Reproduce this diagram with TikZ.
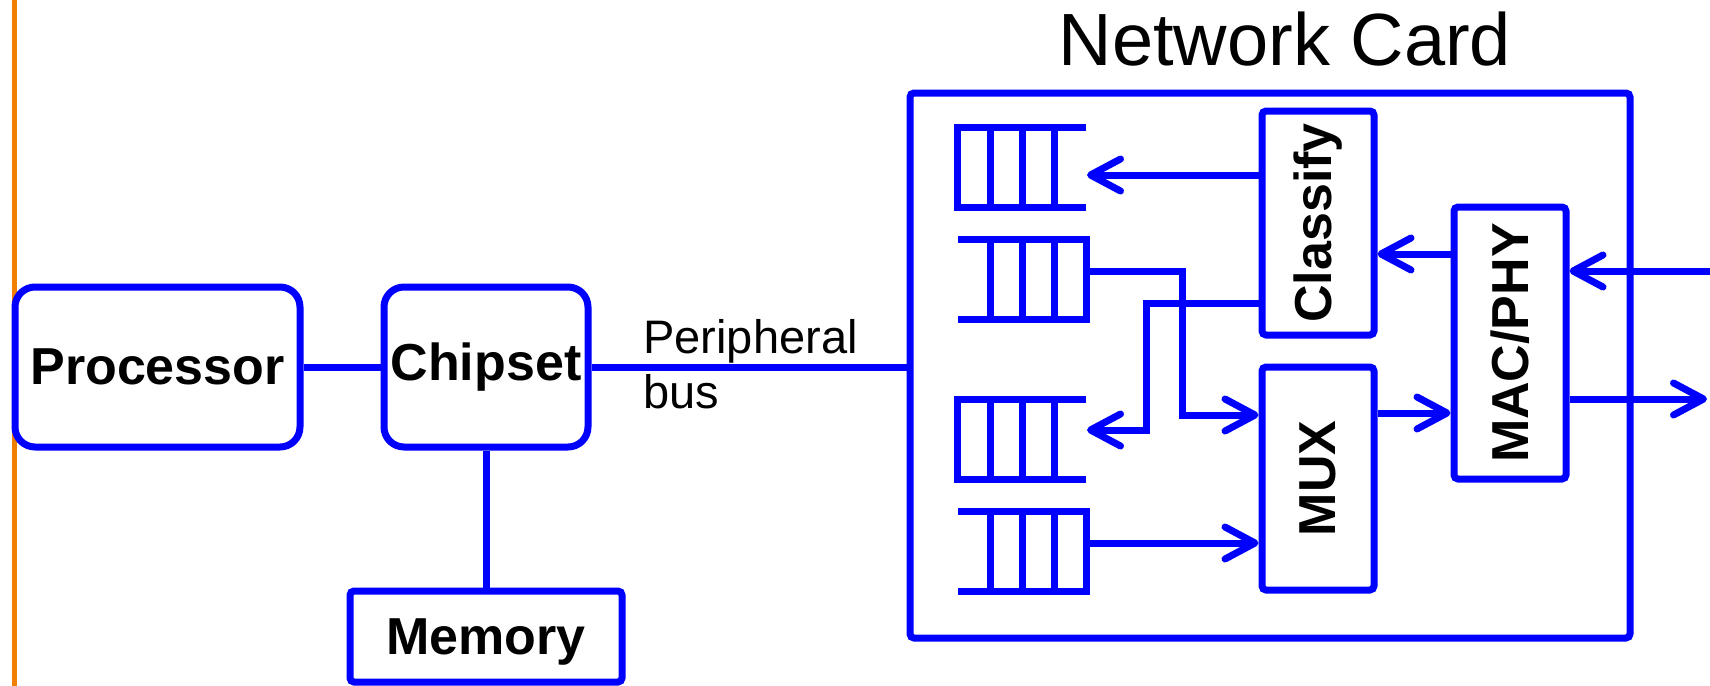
\documentclass[tikz,border=0pt]{standalone}
\usepackage{fontspec}
\setmainfont{Liberation Sans}
\usepackage{graphicx}
\usetikzlibrary{arrows.meta,positioning}
\definecolor{nicblue}{RGB}{0,0,255}
\definecolor{edgeorange}{RGB}{242,128,0}

\begin{document}
\begin{tikzpicture}[x=0.5pt,y=-0.5pt,
  box/.style={draw=nicblue,line width=3.5pt,rounded corners=2pt,inner sep=0pt,font=\bfseries\fontsize{26}{30}\selectfont},
  rbox/.style={box,rounded corners=10pt},
  wire/.style={draw=nicblue,line width=3.5pt},
  arr/.style={wire,-{Straight Barb[length=15pt,width=16pt,round]}}]
\useasboundingbox (0,0) rectangle (1710,686);
\draw[edgeorange,line width=2.5pt] (14,0) -- (14,686);

% host side
\node[rbox,minimum width=142.5pt,minimum height=80pt] (proc) at (157.5,367) {Processor};
\node[rbox,minimum width=102pt,minimum height=80pt] (chip) at (486,367) {Chipset};
\node[box,minimum width=136pt,minimum height=45.5pt,text depth=0pt] (mem) at (486,636.5) {Memory};
\draw[wire] (proc) -- (chip);
\draw[wire] (chip) -- (mem);

% network card
\node[box,minimum width=360pt,minimum height=272.5pt] (card) at (1270,365.5) {};
\node[font=\fontsize{37}{44}\selectfont,anchor=base] (title) at (1285,65) {Network Card};
\draw[wire] (chip.east) -- (chip.east -| card.west);
\node[font=\fontsize{23.5}{27.5}\selectfont,align=left,anchor=base west,inner sep=0pt] (pbus) at (643,408) {Peripheral\\bus};

% queues
\foreach \y in {127,399}
  \draw[wire] (1086,\y) -- (957,\y) -- (957,\y+80) -- (1086,\y+80)
    (990,\y) -- (990,\y+80) (1022,\y) -- (1022,\y+80) (1054,\y) -- (1054,\y+80);
\foreach \y in {239,511}
  \draw[wire] (958,\y) -- (1086,\y) -- (1086,\y+80) -- (958,\y+80)
    (990,\y) -- (990,\y+80) (1022,\y) -- (1022,\y+80) (1054,\y) -- (1054,\y+80);
\coordinate (q1) at (1087,175);
\coordinate (q2) at (1086,271);
\coordinate (q3) at (1087,430);
\coordinate (q4) at (1086,543);

\node[box,minimum width=56pt,minimum height=112pt] (cls) at (1318,223) {\rotatebox{90}{Classify}};
\node[box,minimum width=56pt,minimum height=111.5pt] (mux) at (1318,478.5) {\rotatebox{90}{MUX}};
\node[box,minimum width=56pt,minimum height=136pt] (mac) at (1510,343) {\rotatebox{90}{MAC/PHY}};

\coordinate (cq) at ([yshift=-40pt]cls.west);
\coordinate (qm) at ([yshift=31.75pt]mux.west);
\coordinate (mx) at ([yshift=32.75pt]mux.east);
\coordinate (mc) at ([yshift=44.5pt]mac.west);
\coordinate (rxin) at (1710,271);
\coordinate (txout) at (1707,399);

\draw[arr] (cls.west |- q1) -- (q1);
\draw[arr] (cq) -- ++(-112,0) |- (q3);
\draw[arr] (q2) -- ++(96,0) |- (qm);
\draw[arr] (q4) -- (q4 -| mux.west);
\draw[arr] (mx) -- (mx -| mac.west);
\draw[arr] (mc) -- (mc -| cls.east);
\draw[arr] (rxin) -- (rxin -| mac.east);
\draw[arr] (mac.east |- txout) -- (txout);
\end{tikzpicture}
\end{document}
